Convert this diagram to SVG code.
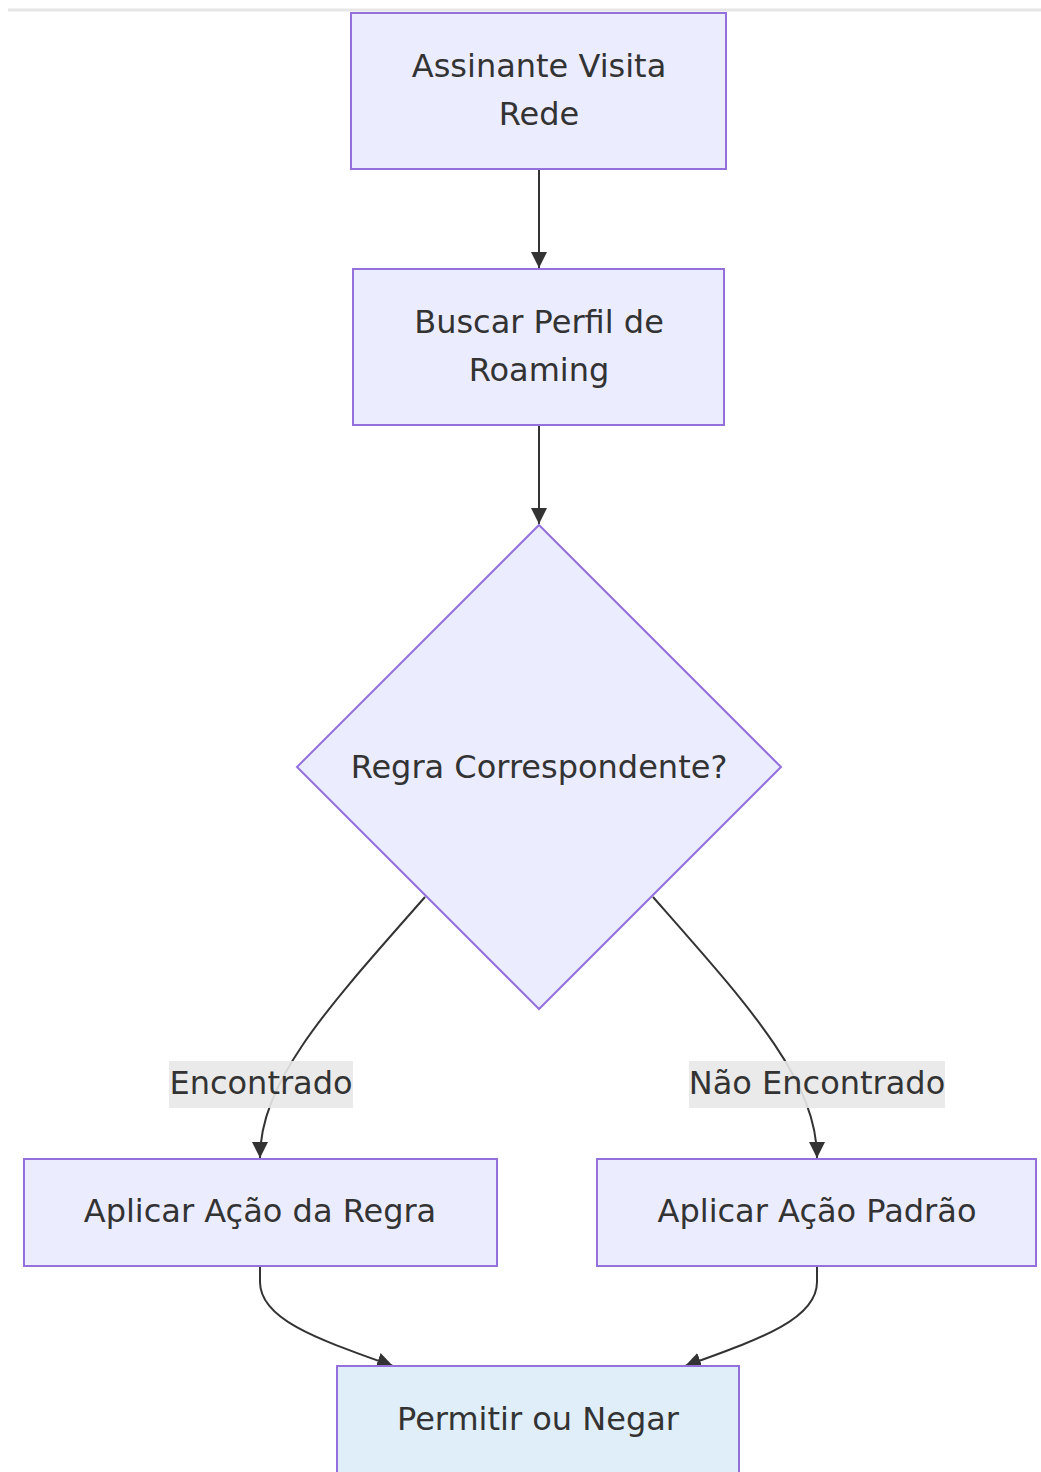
<svg xmlns="http://www.w3.org/2000/svg" width="1041" height="1472" viewBox="0 0 1041 1472">
<style>
.node rect, .node polygon { fill: #ECECFF; stroke: #9370DB; stroke-width: 2; }
.node.end rect { fill: #E0EEF9; }
.lbl { font-family: "DejaVu Sans", sans-serif; font-size: 32px; fill: #333; text-anchor: middle; dominant-baseline: central; }
.edge { fill: none; stroke: #333; stroke-width: 2; }
.elbg { fill: #e8e8e8; opacity: 0.9; }
</style>
<defs>
<marker id="arr" viewBox="0 0 10 10" refX="10" refY="5" markerUnits="userSpaceOnUse" markerWidth="16" markerHeight="16" orient="auto">
<path d="M0,0 L10,5 L0,10 z" fill="#333"/>
</marker>
</defs>
<rect width="1041" height="1472" fill="#fff"/>
<line x1="8" y1="10" x2="1041" y2="10" stroke="#e6e6e6" stroke-width="3"/>
<g id="connectors">
<path class="edge" d="M539,169 L539,268" marker-end="url(#arr)"/>
<path class="edge" d="M539,425 L539,524" marker-end="url(#arr)"/>
<path class="edge" d="M425,897 C330,1005 260,1080 260,1158" marker-end="url(#arr)"/>
<path class="edge" d="M653,897 C748,1005 817,1080 817,1158" marker-end="url(#arr)"/>
<path class="edge" d="M260,1266 L260,1282 C260,1320 320,1340 393,1366" marker-end="url(#arr)"/>
<path class="edge" d="M817,1266 L817,1282 C817,1320 757,1340 685,1366" marker-end="url(#arr)"/>
<g id="label-encontrado">
<rect class="elbg" x="169" y="1061" width="184" height="47"/>
<text class="lbl" x="261" y="1083">Encontrado</text>
</g>
<g id="label-nao-encontrado">
<rect class="elbg" x="689" y="1061" width="256" height="47"/>
<text class="lbl" x="817" y="1083">Não Encontrado</text>
</g>
</g>
<g id="A" class="node">
<rect x="351" y="13" width="375" height="156"/>
<text class="lbl" x="539" y="66">Assinante Visita</text>
<text class="lbl" x="539" y="114">Rede</text>
</g>
<g id="B" class="node">
<rect x="353" y="269" width="371" height="156"/>
<text class="lbl" x="539" y="322">Buscar Perfil de</text>
<text class="lbl" x="539" y="370">Roaming</text>
</g>
<g id="C" class="node">
<polygon points="539,525 781,767 539,1009 297,767"/>
<text class="lbl" x="539" y="767">Regra Correspondente?</text>
</g>
<g id="D" class="node">
<rect x="24" y="1159" width="473" height="107"/>
<text class="lbl" x="260" y="1211">Aplicar Ação da Regra</text>
</g>
<g id="E" class="node">
<rect x="597" y="1159" width="439" height="107"/>
<text class="lbl" x="817" y="1211">Aplicar Ação Padrão</text>
</g>
<g id="F" class="node end">
<rect x="337" y="1366" width="402" height="120"/>
<text class="lbl" x="538" y="1419">Permitir ou Negar</text>
</g>
</svg>
